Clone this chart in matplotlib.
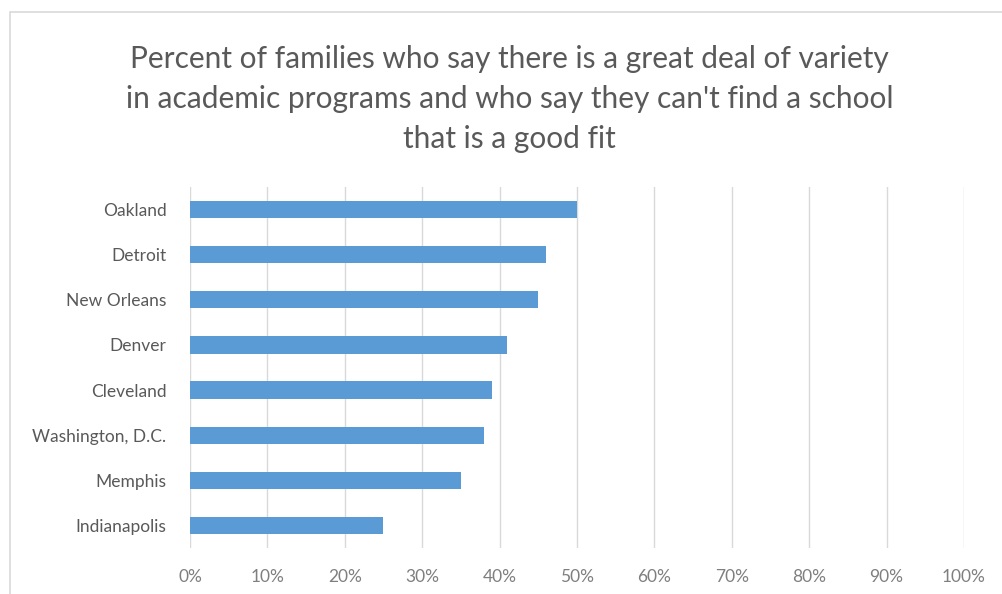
import matplotlib
matplotlib.use("Agg")
import matplotlib.pyplot as plt
from matplotlib.patches import Rectangle
from matplotlib.ticker import FuncFormatter

cities = ["Oakland", "Detroit", "New Orleans", "Denver", "Cleveland",
          "Washington, D.C.", "Memphis", "Indianapolis"]
percents = [50, 46, 45, 41, 39, 38, 35, 25]
x_ticks = [0, 10, 20, 30, 40, 50, 60, 70, 80, 90, 100]

title = ("Percent of families who say there is a great deal of variety\n"
         "in academic programs and who say they can't find a school\n"
         "that is a good fit")

plt.rcParams["font.family"] = ["Lato", "DejaVu Sans"]
text_grey = "#595959"

fig = plt.figure(figsize=(10.03, 5.94), dpi=100)
ax = fig.add_axes([190 / 1003, 46 / 594, 774 / 1003, 361 / 594])

# chart frame
fig.patches.append(Rectangle((10 / 1003, -0.1), 1.2, (594 - 12) / 594 + 0.1,
                             transform=fig.transFigure, fill=False,
                             edgecolor="#d9d9d9", linewidth=1.2))

pos = list(range(len(cities)))[::-1]
ax.barh(pos, percents, height=0.38, color="#5b9bd5", zorder=2)

ax.set_xlim(0, 100)
ax.set_ylim(-0.5, len(cities) - 0.5)
ax.set_xticks(x_ticks)
ax.xaxis.set_major_formatter(FuncFormatter(lambda v, _: f"{v:.0f}%"))
ax.set_yticks(pos)
ax.set_yticklabels(cities)
ax.grid(axis="x", color="#d9d9d9", linewidth=1, zorder=0)
for s in ax.spines.values():
    s.set_visible(False)
ax.tick_params(length=0, colors=text_grey, labelsize=12.5)
ax.tick_params(axis="x", pad=15, labelcolor="#7f7f7f")
ax.tick_params(axis="y", pad=17)

fig.text(0.508, 1 - 99 / 594, title, ha="center", va="center",
         fontsize=21.5, color=text_grey, linespacing=1.52)

fig.savefig("out.png", dpi=100, facecolor="white")
